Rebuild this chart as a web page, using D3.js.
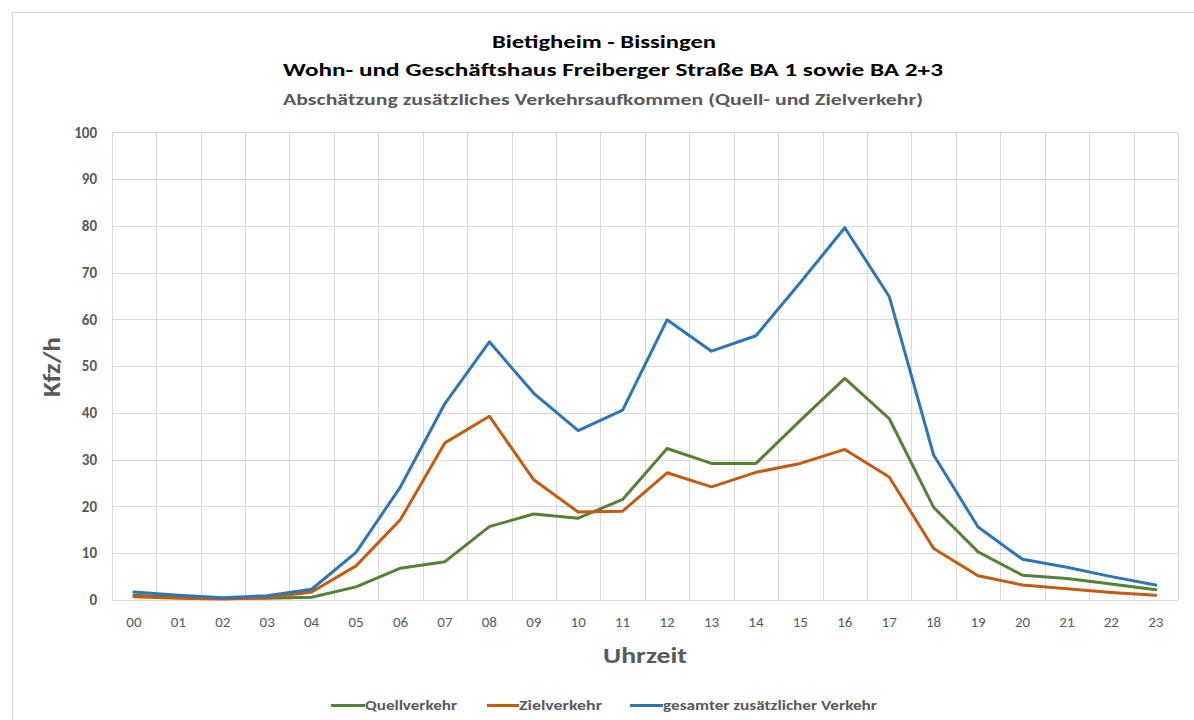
<!DOCTYPE html>
<html><head><meta charset="utf-8">
<script src="https://cdn.jsdelivr.net/npm/d3@7"></script>
<style>body{margin:0;background:#fff}svg{display:block}text{font-family:Carlito,"Liberation Sans Narrow","Open Sans",sans-serif}</style>
</head><body>
<svg id="c" width="1194" height="720"></svg>
<script>
const hours = ["00","01","02","03","04","05","06","07","08","09","10","11","12","13","14","15","16","17","18","19","20","21","22","23"];
const quellverkehr = [1.0,0.6,0.3,0.4,0.6,2.8,6.8,8.2,15.7,18.4,17.5,21.5,32.4,29.2,29.2,38.4,47.4,38.8,19.8,10.3,5.3,4.6,3.4,2.2];
const zielverkehr  = [0.7,0.4,0.2,0.5,1.7,7.3,17.2,33.6,39.3,25.7,18.8,19.0,27.2,24.2,27.3,29.2,32.2,26.3,11.0,5.2,3.2,2.4,1.6,1.0];
const gesamt       = [1.7,1.0,0.5,0.9,2.3,10.2,24.2,42.0,55.2,44.2,36.2,40.6,59.9,53.2,56.5,67.9,79.6,64.9,31.0,15.6,8.7,7.0,5.0,3.2];
const yTicks = [0,10,20,30,40,50,60,70,80,90,100];
const seriesNames = ["Quellverkehr","Zielverkehr","gesamter zusätzlicher Verkehr"];
const seriesColors = ["#548235","#C55A11","#2E75B6"];
const titles = ["Bietigheim - Bissingen","Wohn- und Geschäftshaus Freiberger Straße BA 1 sowie BA 2+3","Abschätzung zusätzliches Verkehrsaufkommen (Quell- und Zielverkehr)"];

const svg = d3.select("#c");
svg.append("rect").attr("x",12.5).attr("y",12.5).attr("width",1200).attr("height",720).attr("fill","#fff").attr("stroke","#d9d9d9");

const L=111.7,R=1178,T=132.3,B=600;
const x = d3.scaleBand().domain(hours).range([L,R]);
const y = d3.scaleLinear().domain([0,100]).range([B,T]);
const g = svg.append("g");

// horizontal grid
g.selectAll("line.h").data(yTicks).join("line").attr("x1",L).attr("x2",R)
 .attr("y1",d=>Math.round(y(d))+0.5).attr("y2",d=>Math.round(y(d))+0.5).attr("stroke","#d9d9d9").attr("stroke-width",1);
// vertical grid (category boundaries)
const bounds = hours.map(h=>x(h)).concat([R]);
g.selectAll("line.v").data(bounds).join("line").attr("y1",T).attr("y2",B)
 .attr("x1",d=>Math.round(d)+0.5).attr("x2",d=>Math.round(d)+0.5).attr("stroke","#d9d9d9").attr("stroke-width",1);

// y tick labels
g.selectAll("text.yt").data(yTicks).join("text").attr("x",97).attr("y",d=>y(d)).attr("dy","0.35em")
 .attr("text-anchor","end").attr("fill","#595959").attr("font-size",15).attr("font-weight","bold").text(d=>d);
// x tick labels
g.selectAll("text.xt").data(hours).join("text").attr("x",d=>x(d)+x.bandwidth()/2).attr("y",622).attr("dy","0.35em")
 .attr("text-anchor","middle").attr("fill","#595959").attr("font-size",15).text(d=>d);

// axis titles
svg.append("text").attr("transform","translate(60,367) rotate(-90)").attr("text-anchor","middle")
 .attr("fill","#595959").attr("font-size",25).attr("font-weight","bold")
 .attr("textLength",60).attr("lengthAdjust","spacingAndGlyphs").text("Kfz/h");
svg.append("text").attr("x",645).attr("y",663).attr("text-anchor","middle")
 .attr("fill","#595959").attr("font-size",23).attr("font-weight","bold")
 .attr("textLength",84).attr("lengthAdjust","spacingAndGlyphs").text("Uhrzeit");

// titles
svg.append("text").attr("x",604).attr("y",48).attr("text-anchor","middle").attr("font-size",19).attr("font-weight","bold")
 .attr("fill","#000").attr("textLength",224).attr("lengthAdjust","spacingAndGlyphs").text(titles[0]);
svg.append("text").attr("x",613).attr("y",76).attr("text-anchor","middle").attr("font-size",19).attr("font-weight","bold")
 .attr("fill","#000").attr("textLength",660).attr("lengthAdjust","spacingAndGlyphs").text(titles[1]);
svg.append("text").attr("x",603).attr("y",105).attr("text-anchor","middle").attr("font-size",16).attr("font-weight","bold")
 .attr("fill","#595959").attr("textLength",640).attr("lengthAdjust","spacingAndGlyphs").text(titles[2]);

// lines
const all = [quellverkehr, zielverkehr, gesamt];
const line = d3.line().x((d,i)=>x(hours[i])+x.bandwidth()/2).y(d=>y(d));
all.forEach((s,k)=>{
  svg.append("path").datum(s).attr("d",line).attr("fill","none").attr("stroke",seriesColors[k])
   .attr("stroke-width",3).attr("stroke-linejoin","round").attr("stroke-linecap","round");
});

// legend
const legX = [331,487,630], legTx=[365,519,663], legTw=[92,83,214];
seriesNames.forEach((n,k)=>{
  svg.append("line").attr("x1",legX[k]).attr("x2",legTx[k]).attr("y1",705.5).attr("y2",705.5)
   .attr("stroke",seriesColors[k]).attr("stroke-width",3);
  svg.append("text").attr("x",legTx[k]).attr("y",705.5).attr("dy","0.35em").attr("font-size",14).attr("font-weight","bold").attr("fill","#595959")
   .attr("textLength",legTw[k]).attr("lengthAdjust","spacingAndGlyphs").text(n);
});
</script>
</body></html>
